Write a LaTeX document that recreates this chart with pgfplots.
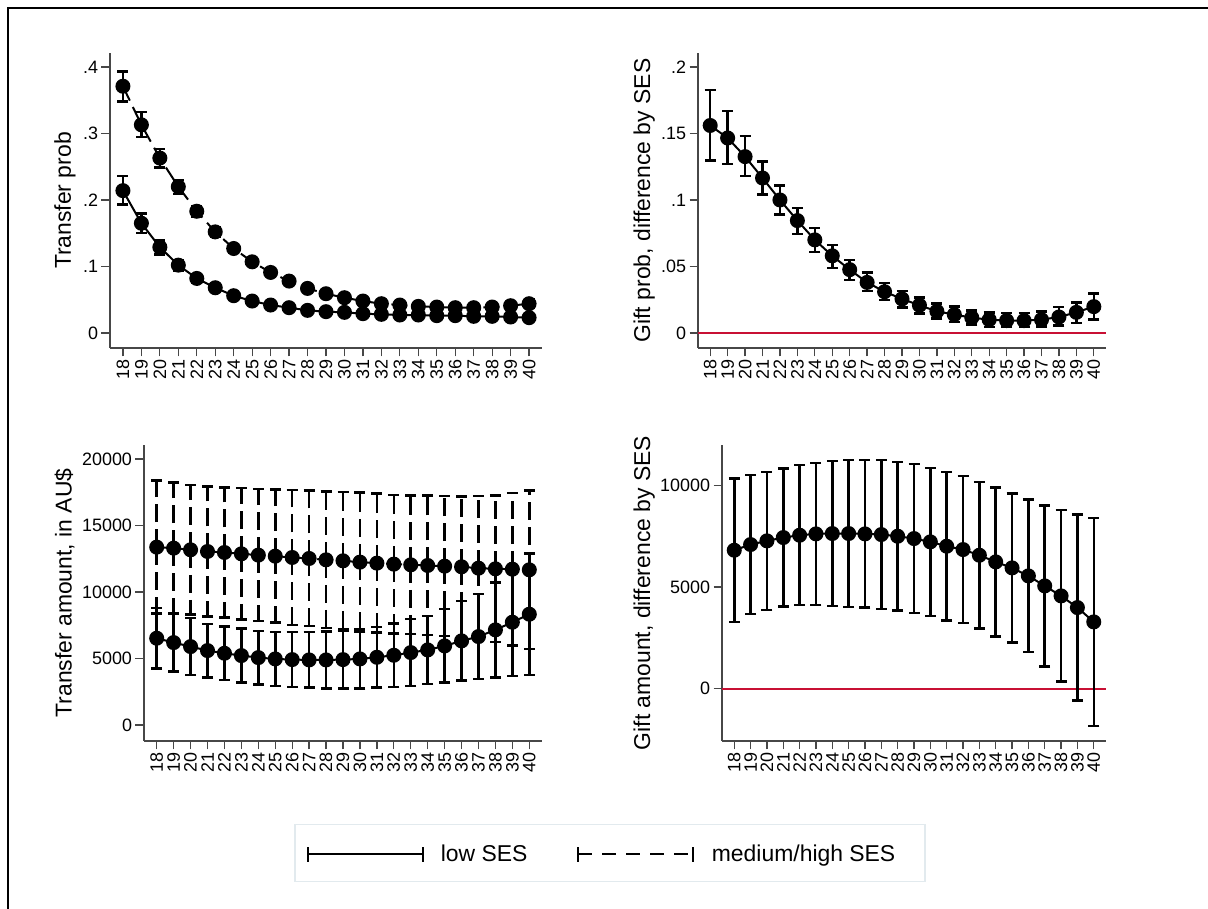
\documentclass[border=0pt]{standalone}
\usepackage{fontspec}
\setmainfont{Liberation Sans}
\usepackage{pgfplots}
\usepackage{pgfplotstable}
\pgfplotsset{compat=1.18}
\definecolor{refred}{RGB}{200,16,52}
\definecolor{legbox}{RGB}{226,234,238}

% Panel 1: transfer probability
\pgfplotstableread{
age est lo hi
18 0.214 0.193 0.236
19 0.165 0.150 0.180
20 0.129 0.118 0.139
21 0.102 0.094 0.109
22 0.082 0.076 0.088
23 0.068 0.063 0.073
24 0.056 0.051 0.060
25 0.048 0.044 0.052
26 0.042 0.038 0.045
27 0.038 0.035 0.041
28 0.034 0.031 0.037
29 0.032 0.029 0.035
30 0.031 0.028 0.034
31 0.029 0.026 0.032
32 0.028 0.025 0.031
33 0.027 0.024 0.030
34 0.027 0.023 0.030
35 0.026 0.023 0.030
36 0.026 0.022 0.029
37 0.025 0.021 0.029
38 0.025 0.021 0.029
39 0.024 0.019 0.028
40 0.023 0.018 0.028
}\tpLow
\pgfplotstableread{
age est lo hi
18 0.371 0.348 0.393
19 0.313 0.295 0.332
20 0.263 0.249 0.277
21 0.220 0.209 0.230
22 0.183 0.174 0.191
23 0.152 0.144 0.159
24 0.127 0.120 0.133
25 0.107 0.101 0.112
26 0.091 0.086 0.096
27 0.078 0.073 0.082
28 0.067 0.063 0.071
29 0.059 0.055 0.063
30 0.053 0.049 0.056
31 0.048 0.045 0.052
32 0.044 0.041 0.047
33 0.042 0.039 0.045
34 0.040 0.037 0.043
35 0.039 0.036 0.042
36 0.038 0.035 0.041
37 0.038 0.034 0.042
38 0.039 0.035 0.043
39 0.041 0.036 0.046
40 0.044 0.038 0.050
}\tpHigh
% Panel 2: gift probability difference
\pgfplotstableread{
age est lo hi
18 0.1560 0.1296 0.1825
19 0.1466 0.1270 0.1667
20 0.1326 0.1180 0.1480
21 0.1165 0.1040 0.1290
22 0.1000 0.0890 0.1110
23 0.0845 0.0744 0.0940
24 0.0700 0.0610 0.0790
25 0.0580 0.0490 0.0660
26 0.0476 0.0400 0.0550
27 0.0380 0.0316 0.0456
28 0.0310 0.0246 0.0376
29 0.0256 0.0193 0.0316
30 0.0208 0.0145 0.0266
31 0.0163 0.0108 0.0220
32 0.0138 0.0083 0.0198
33 0.0115 0.0063 0.0170
34 0.0100 0.0045 0.0155
35 0.0093 0.0043 0.0150
36 0.0093 0.0043 0.0150
37 0.0100 0.0048 0.0163
38 0.0120 0.0055 0.0195
39 0.0155 0.0075 0.0230
40 0.0198 0.0100 0.0296
}\gpDiff
% Panel 3: transfer amount
\pgfplotstableread{
age est lo hi
18 6524 4265 8783
19 6198 4015 8381
20 5896 3764 8028
21 5595 3588 7602
22 5394 3387 7401
23 5219 3186 7252
24 5068 3061 7075
25 4968 2936 7000
26 4918 2860 6976
27 4893 2810 6976
28 4893 2760 7026
29 4918 2760 7076
30 4968 2760 7176
31 5093 2810 7376
32 5244 2860 7628
33 5445 2936 7954
34 5645 3086 8204
35 5946 3186 8706
36 6323 3337 9309
37 6649 3462 9836
38 7151 3588 10714
39 7728 3688 11768
40 8330 3764 12896
}\taLow
\pgfplotstableread{
age est lo hi
18 13373 8380 18366
19 13298 8356 18240
20 13172 8304 18040
21 13047 8155 17939
22 12971 8078 17864
23 12871 7928 17814
24 12771 7803 17739
25 12696 7704 17688
26 12595 7527 17663
27 12520 7427 17613
28 12420 7277 17563
29 12345 7177 17513
30 12244 7025 17463
31 12169 6950 17388
32 12094 6876 17312
33 12043 6824 17262
34 11993 6749 17237
35 11943 6674 17212
36 11893 6599 17187
37 11792 6372 17212
38 11742 6247 17237
39 11717 5996 17438
40 11667 5721 17613
}\taHigh
% Panel 4: gift amount difference
\pgfplotstableread{
age est lo hi
18 6802 3278 10326
19 7081 3672 10490
20 7262 3870 10654
21 7425 4032 10818
22 7540 4099 10981
23 7605 4114 11096
24 7622 4066 11178
25 7622 4016 11228
26 7605 3982 11228
27 7572 3916 11228
28 7490 3851 11129
29 7376 3721 11031
30 7212 3573 10851
31 6999 3344 10654
32 6835 3229 10441
33 6556 2950 10162
34 6228 2573 9883
35 5933 2278 9588
36 5540 1787 9293
37 5048 1098 8998
38 4556 343 8769
39 3983 -590 8556
40 3278 -1836 8392
}\gaDiff

\pgfplotsset{
  panel/.style={
    scale only axis, anchor=south west,
    axis x line*=bottom, axis y line*=left,
    axis line style={line width=1.3bp, black!72},
    tick align=outside, major tick length=8.5bp,
    tick style={line width=1.3bp, black!72},
    xtick={18,...,40},
    x tick label style={rotate=90, anchor=east, font=\fontsize{18}{18}\selectfont},
    y tick label style={font=\fontsize{18}{18}\selectfont},
    every axis y label/.style={rotate=90, anchor=center, font=\fontsize{23}{23}\selectfont},
    /pgf/number format/assume math mode=true,
    /pgf/number format/set thousands separator={},
    scaled y ticks=false,
  },
  ser/.style={black, line width=2bp, mark=*, mark size=6.5bp,
    mark options={solid, fill=black},
    /pgfplots/error bars/y dir=both,
    /pgfplots/error bars/y explicit,
    /pgfplots/error bars/error bar style={line width=2.5bp},
    /pgfplots/error bars/error mark options={rotate=90, line width=2.5bp, mark size=5.5bp, solid},
  },
  dser/.style={black, line width=2bp, mark=*, mark size=6.5bp,
    dash pattern=on 16bp off 7bp,
    mark options={solid, fill=black},
    /pgfplots/error bars/y dir=both,
    /pgfplots/error bars/y explicit,
    /pgfplots/error bars/error bar style={line width=2.5bp, dash pattern=on 18bp off 7bp},
    /pgfplots/error bars/error mark options={rotate=90, line width=2.5bp, mark size=5.5bp, solid},
  },
  /pgfplots/table/errtab/.style={x=age, y=est, y error plus expr=\thisrow{hi}-\thisrow{est}, y error minus expr=\thisrow{est}-\thisrow{lo}},
}

\begin{document}
\begin{tikzpicture}
\path[use as bounding box] (0,0) rectangle (1208bp,909bp);
\draw[line width=2.7bp, black] (8bp,0bp) -- (8bp,901bp) -- (1208bp,901bp);

% Panel 1
\begin{axis}[panel, at={(110bp,561bp)}, width=432bp, height=295bp,
  xmin=17.3, xmax=40.7, ymin=-0.0226, ymax=0.421,
  ytick={0,0.1,0.2,0.3,0.4}, yticklabels={0,.1,.2,.3,.4},
  ylabel={Transfer prob},
  every axis y label/.append style={at={(axis description cs:-0.1042,0.5)}}]
\addplot[ser] table[errtab] {\tpLow};
\addplot[dser] table[errtab] {\tpHigh};
\end{axis}

% Panel 2
\begin{axis}[panel, at={(698bp,561bp)}, width=408bp, height=295bp,
  xmin=17.3, xmax=40.7, ymin=-0.0113, ymax=0.2105,
  ytick={0,0.05,0.1,0.15,0.2}, yticklabels={0,.05,.1,.15,.2},
  ylabel={Gift prob, difference by SES},
  every axis y label/.append style={at={(axis description cs:-0.1319,0.5)}}]
\addplot[refred, line width=2bp, forget plot] coordinates {(17.3,0) (40.7,0)};
\addplot[ser] table[errtab] {\gpDiff};
\end{axis}

% Panel 3
\begin{axis}[panel, at={(144bp,168bp)}, width=398bp, height=296bp,
  xmin=17.25, xmax=40.75, ymin=-1203, ymax=21053,
  ytick={0,5000,10000,15000,20000},
  ylabel={Transfer amount, in AU\$},
  every axis y label/.append style={at={(axis description cs:-0.1997,0.5)}}]
\addplot[dser] table[errtab] {\taHigh};
\addplot[ser] table[errtab] {\taLow};
\end{axis}

% Panel 4
\begin{axis}[panel, at={(722bp,168bp)}, width=384bp, height=296bp,
  xmin=17.25, xmax=40.75, ymin=-2576, ymax=11975,
  ytick={0,5000,10000},
  ylabel={Gift amount, difference by SES},
  every axis y label/.append style={at={(axis description cs:-0.2026,0.5)}}]
\addplot[refred, line width=2bp, forget plot] coordinates {(17.25,0) (40.75,0)};
\addplot[ser] table[errtab] {\gaDiff};
\end{axis}

% Legend
\draw[legbox, line width=1.6bp] (295bp,27.5bp) rectangle (925bp,84.5bp);
\draw[line width=2.2bp] (308.3bp,54.7bp) -- (423.3bp,54.7bp);
\draw[line width=2.2bp] (308.3bp,47.2bp) -- (308.3bp,62.2bp);
\draw[line width=2.2bp] (423.3bp,47.2bp) -- (423.3bp,62.2bp);
\node[anchor=base west, inner sep=0pt, font=\fontsize{23}{23}\selectfont] at (440.7bp,47.3bp) {low SES};
\draw[line width=2.2bp, dash pattern=on 14bp off 10bp] (578bp,54.7bp) -- (693bp,54.7bp);
\draw[line width=2.2bp] (578bp,47.2bp) -- (578bp,62.2bp);
\draw[line width=2.2bp] (693bp,47.2bp) -- (693bp,62.2bp);
\node[anchor=base west, inner sep=0pt, font=\fontsize{23}{23}\selectfont] at (711.7bp,47.3bp) {medium/high SES};
\end{tikzpicture}
\end{document}
